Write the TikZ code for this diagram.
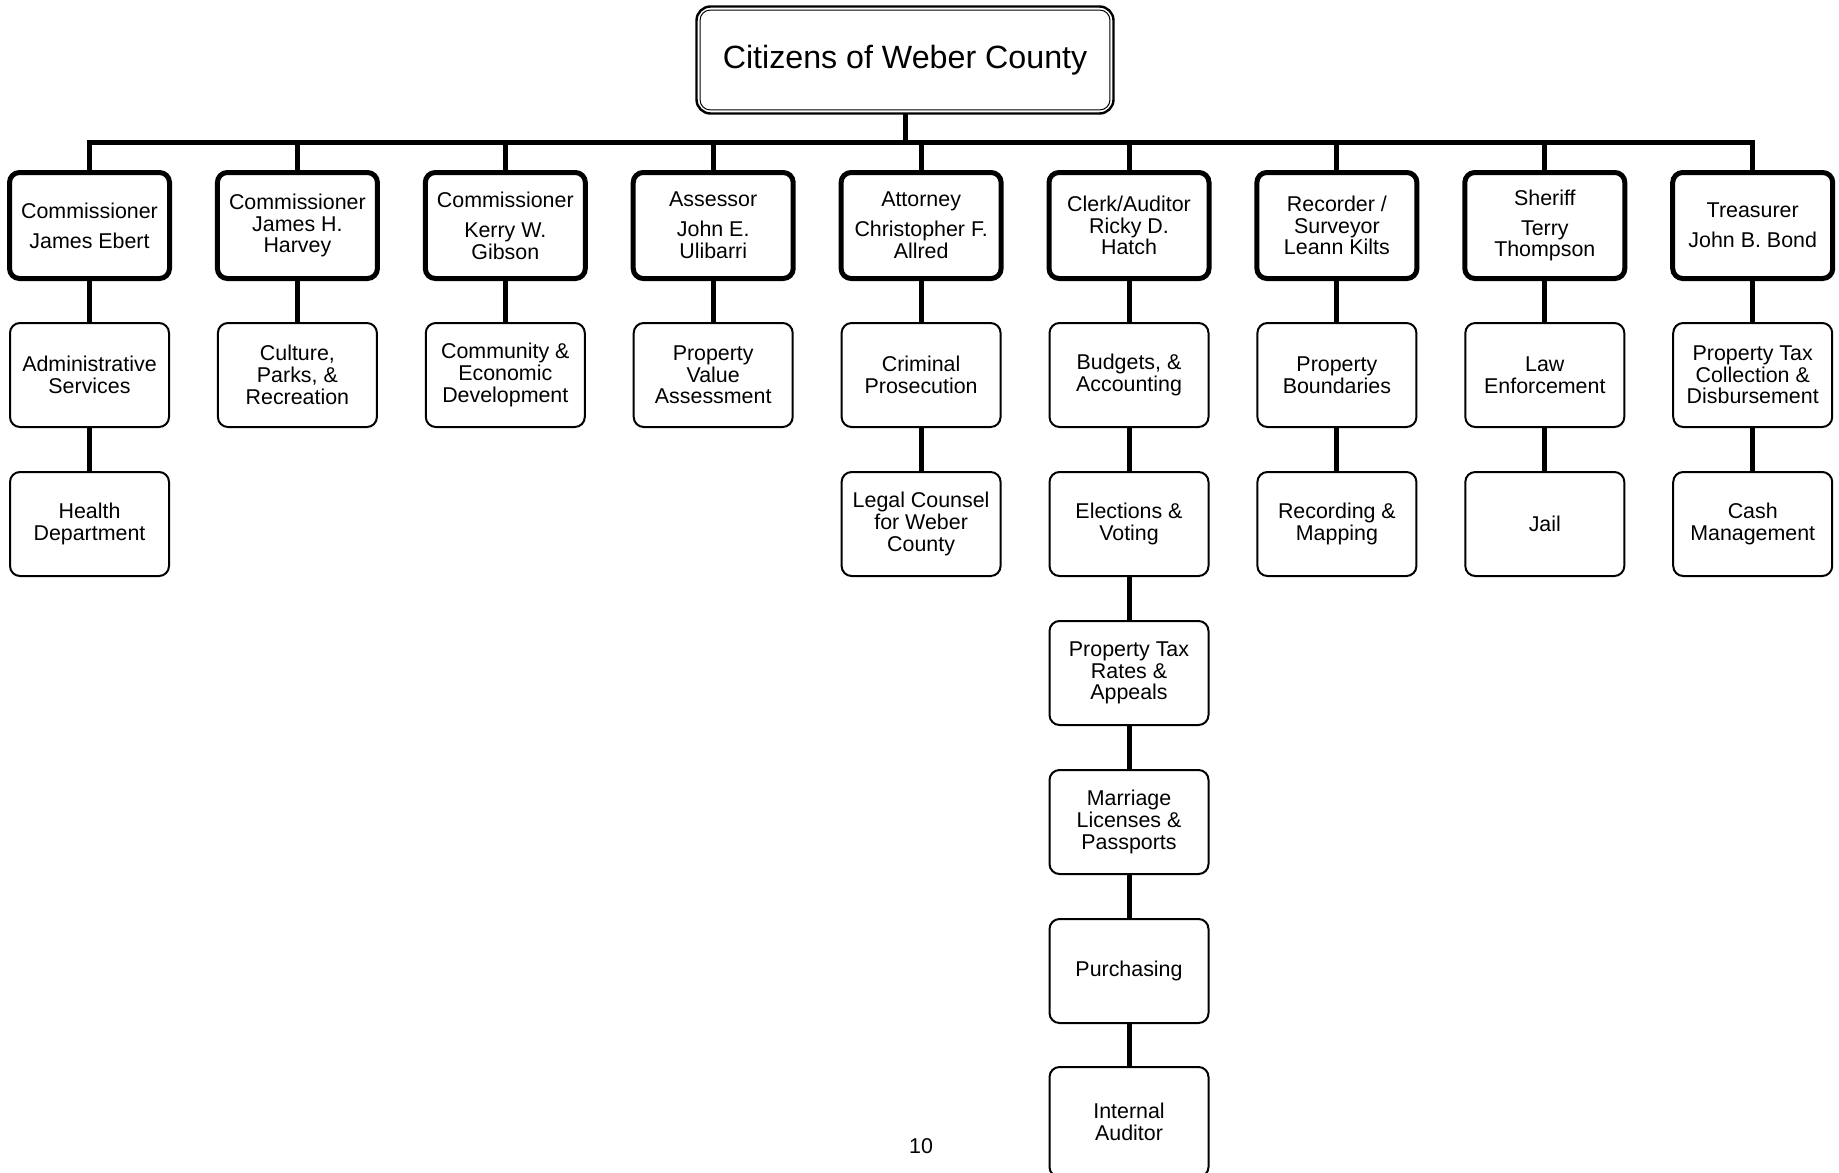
\documentclass[tikz,border=0pt]{standalone}
\usepackage{fontspec}
\setmainfont{Liberation Sans}
\begin{document}
\begin{tikzpicture}[x=0.5pt,y=-0.5pt,
  txt/.style={font=\fontsize{10.7}{10.85}\selectfont, align=center, text=black},
  lead/.style={txt, draw, line width=2.5pt, rounded corners=5pt, minimum width=80pt, minimum height=53pt, inner sep=0pt, outer sep=0pt},
  unit/.style={txt, draw, line width=1pt, rounded corners=5pt, minimum width=79.5pt, minimum height=52pt, inner sep=0pt, outer sep=0pt},
  link/.style={line width=2.5pt},
]
\useasboundingbox (0,0) rectangle (1839,1172);

% top box
\node[draw, line width=1.2pt, rounded corners=7pt, minimum width=208.5pt, minimum height=53.5pt, inner sep=0pt, outer sep=0pt,
      font=\fontsize{16.1}{16.5}\selectfont] (top) at (905,60) {Citizens of Weber County};
\draw[line width=0.5pt, rounded corners=5pt] ([shift={(1.8pt,-1.8pt)}]top.north west) rectangle ([shift={(-1.8pt,1.8pt)}]top.south east);

% leaders
\node[lead] (l1) at (89.5,225.5)  {Commissioner\\[4.2pt]James Ebert};
\node[lead] (l2) at (297.4,225.5) {Commissioner\\James H.\\Harvey};
\node[lead] (l3) at (505.3,225.5) {Commissioner\\[4.2pt]Kerry W.\\Gibson};
\node[lead] (l4) at (713.2,225.5) {Assessor\\[4.2pt]John E.\\Ulibarri};
\node[lead] (l5) at (921.1,225.5) {Attorney\\[4.2pt]Christopher F.\\Allred};
\node[lead] (l6) at (1129.0,225.5) {Clerk/Auditor\\Ricky D.\\Hatch};
\node[lead] (l7) at (1336.9,225.5) {Recorder /\\Surveyor\\Leann Kilts};
\node[lead] (l8) at (1544.8,225.5) {Sheriff\\[4.2pt]Terry\\Thompson};
\node[lead] (l9) at (1752.7,225.5) {Treasurer\\[4.2pt]John B. Bond};

% units
\node[unit] (c11) at (89.5,375) {Administrative\\Services};
\node[unit] (c12) at (89.5,524) {Health\\Department};
\node[unit] (c21) at (297.4,375) {Culture,\\Parks, \&\\Recreation};
\node[unit] (c31) at (505.3,375) {Community \&\\Economic\\Development};
\node[unit] (c41) at (713.2,375) {Property\\Value\\Assessment};
\node[unit] (c51) at (921.1,375) {Criminal\\Prosecution};
\node[unit] (c52) at (921.1,524) {Legal Counsel\\for Weber\\County};
\node[unit] (c61) at (1129.0,375) {Budgets, \&\\Accounting};
\node[unit] (c62) at (1129.0,524) {Elections \&\\Voting};
\node[unit] (c63) at (1129.0,673) {Property Tax\\Rates \&\\Appeals};
\node[unit] (c64) at (1129.0,822) {Marriage\\Licenses \&\\Passports};
\node[unit] (c65) at (1129.0,971) {Purchasing};
\node[unit, minimum height=55pt] (c66) at (1129.0,1122) {Internal\\Auditor};
\node[unit] (c71) at (1336.9,375) {Property\\Boundaries};
\node[unit] (c72) at (1336.9,524) {Recording \&\\Mapping};
\node[unit] (c81) at (1544.8,375) {Law\\Enforcement};
\node[unit] (c82) at (1544.8,524) {Jail};
\node[unit] (c91) at (1752.7,375) {Property Tax\\Collection \&\\Disbursement};
\node[unit] (c92) at (1752.7,524) {Cash\\Management};

% page number
\node[txt] (pg) at (921,1146) {10};

% bus
\coordinate (bus) at (905,142);
\draw[link] (top.south) -- (top.south |- bus);
\draw[link] (l1.north) -- (l1.north |- bus) -- (l9.north |- bus) -- (l9.north);
\foreach \n in {l2,l3,l4,l5,l6,l7,l8}{
  \draw[link] (\n.north |- bus) -- (\n.north);
}

% vertical chains
\draw[link] (l1.south) -- (c11.north);
\draw[link] (c11.south) -- (c12.north);
\draw[link] (l2.south) -- (c21.north);
\draw[link] (l3.south) -- (c31.north);
\draw[link] (l4.south) -- (c41.north);
\draw[link] (l5.south) -- (c51.north);
\draw[link] (c51.south) -- (c52.north);
\draw[link] (l6.south) -- (c61.north);
\draw[link] (c61.south) -- (c62.north);
\draw[link] (c62.south) -- (c63.north);
\draw[link] (c63.south) -- (c64.north);
\draw[link] (c64.south) -- (c65.north);
\draw[link] (c65.south) -- (c66.north);
\draw[link] (l7.south) -- (c71.north);
\draw[link] (c71.south) -- (c72.north);
\draw[link] (l8.south) -- (c81.north);
\draw[link] (c81.south) -- (c82.north);
\draw[link] (l9.south) -- (c91.north);
\draw[link] (c91.south) -- (c92.north);
\end{tikzpicture}
\end{document}
